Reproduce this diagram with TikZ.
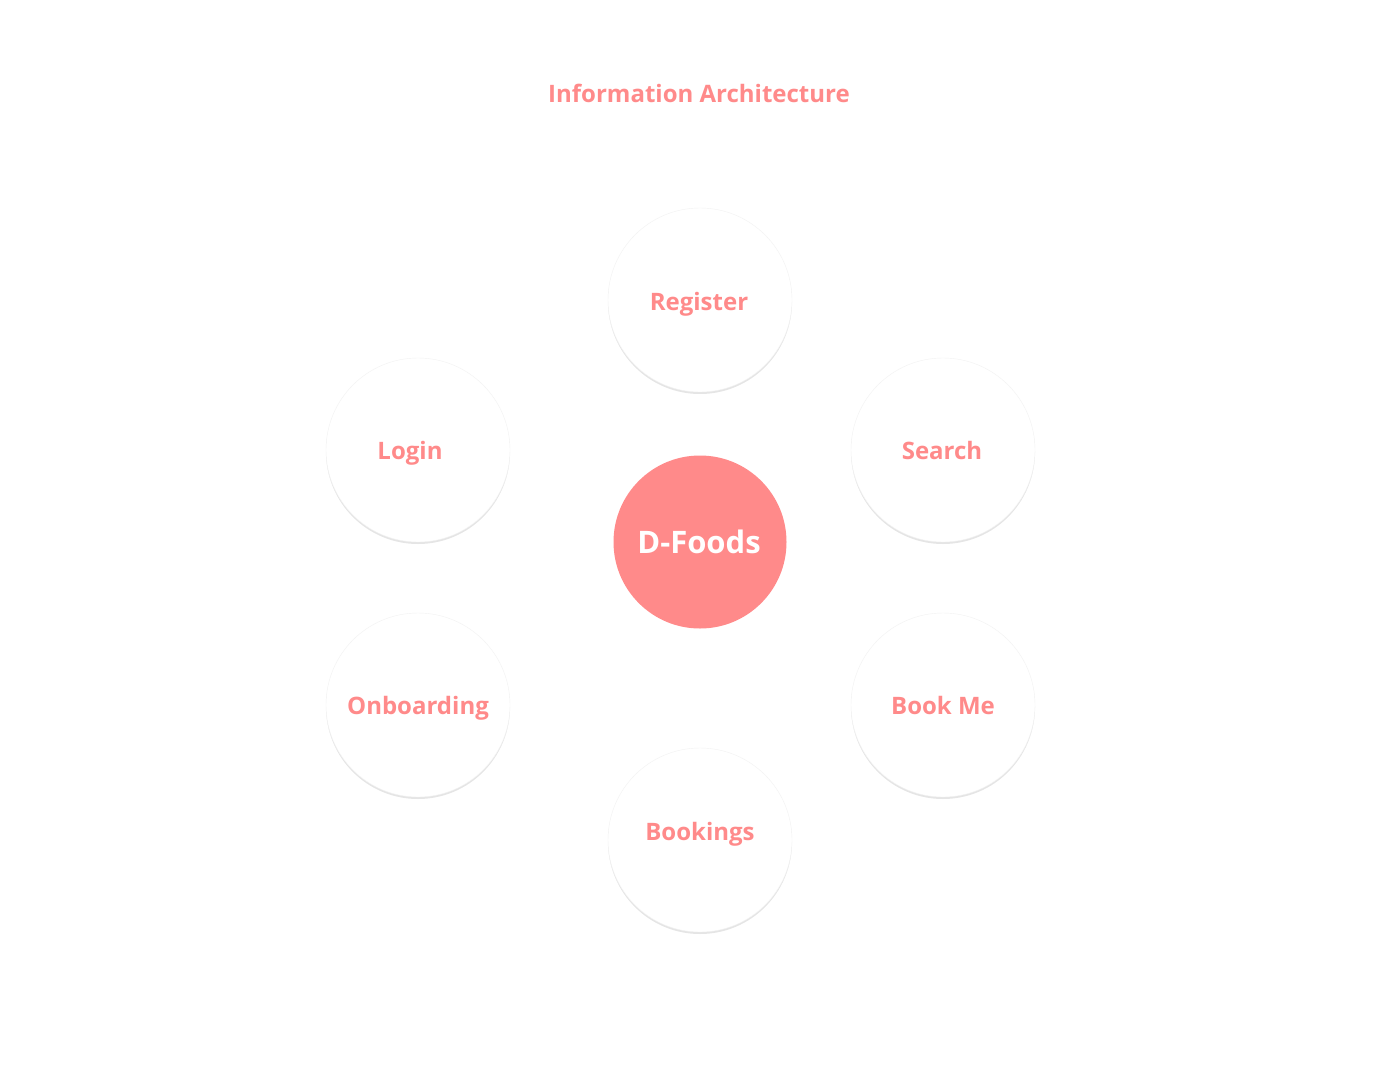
\documentclass[tikz,border=0pt]{standalone}
\usepackage{fontspec}
\setmainfont{Open Sans}
\usetikzlibrary{shadows}
\definecolor{salmon}{HTML}{FF8A8A}
\tikzset{
  bubble/.style={circle,minimum size=184pt,inner sep=0pt,fill=white,draw=black!5,
    drop shadow={shadow xshift=0pt,shadow yshift=-2pt,opacity=0.10,fill=black}},
  bubbletext/.style={anchor=base,inner sep=0pt,text=salmon,font=\bfseries\fontsize{24}{28}\selectfont},
  hub/.style={circle,minimum size=173pt,inner sep=0pt,fill=salmon},
  hubtext/.style={anchor=base,inner sep=0pt,text=white,font=\bfseries\fontsize{31}{36}\selectfont}
}
\begin{document}
\begin{tikzpicture}[x=1pt,y=-1pt]
  \useasboundingbox[fill=white] (0,0) rectangle (1400,1084);

  % title
  \node[anchor=base,inner sep=0pt,text=salmon,font=\bfseries\fontsize{24}{28}\selectfont] (title) at (699,102) {Information Architecture};

  % the six pages round the hub
  \foreach \name/\cx/\cy/\tx/\ty/\txt in {
    register/700/300/699/310/Register,
    login/418/450/410/459/Login,
    search/943/450/942/459/Search,
    onboarding/418/705/418/714/Onboarding,
    bookme/943/705/943/714/Book Me,
    bookings/700/840/700/840/Bookings
  }
  {
    \node[bubble] (\name) at (\cx,\cy) {};
    \node[bubbletext] (\name-text) at (\tx,\ty) {\txt};
  }

  % centre
  \node[hub] (dfoods) at (700,542) {};
  \node[hubtext] (dfoods-text) at (699,553) {D-Foods};
\end{tikzpicture}
\end{document}
